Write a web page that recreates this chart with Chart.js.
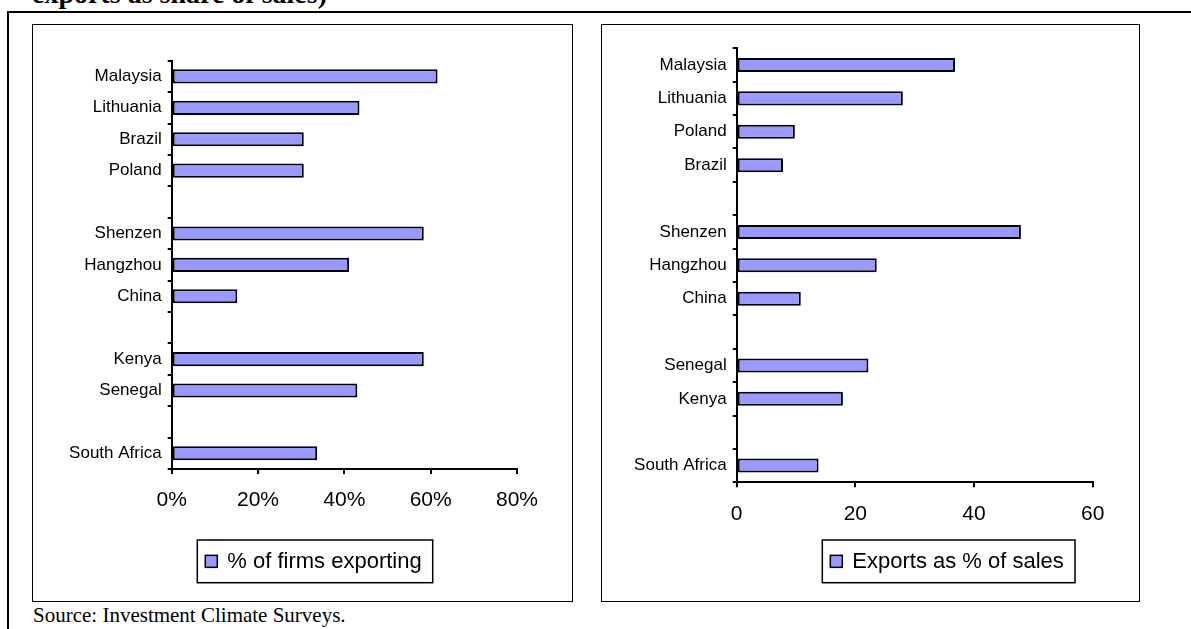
<!DOCTYPE html>
<html>
<head>
<meta charset="utf-8">
<script src="https://cdn.jsdelivr.net/npm/chart.js@4.4.0/dist/chart.umd.min.js"></script>
<style>
  body { margin: 0; background: #fff; width: 1191px; height: 629px; overflow: hidden; position: relative; }
  #title { position: absolute; left: 32px; top: -20px; font: bold 28px "Liberation Serif", "Times New Roman", serif; line-height: 28px; white-space: nowrap; }
  #frameTop { position: absolute; left: 7px; top: 11px; width: 1184px; height: 2px; background: #000; }
  #frameLeft { position: absolute; left: 7px; top: 11px; width: 2px; height: 618px; background: #000; }
  .box { position: absolute; border: 1px solid #000; box-sizing: border-box; }
  .box canvas { display: block; }
  #source { position: absolute; left: 33px; top: 605px; font: 21px "Liberation Serif", "Times New Roman", serif; line-height: 21px; white-space: nowrap; }
</style>
</head>
<body>
<div id="title">exports as share of sales)</div>
<div id="frameTop"></div>
<div id="frameLeft"></div>
<div class="box" style="left:32px; top:24px; width:541px; height:578px;">
  <canvas id="firmsChart" width="539" height="576"></canvas>
</div>
<div class="box" style="left:601px; top:24px; width:539px; height:578px;">
  <canvas id="salesChart" width="537" height="576"></canvas>
</div>
<div id="source">Source: Investment Climate Surveys.</div>

<script>
// Données (les chaînes vides sont les espaces entre groupes)
const firmsCountries = ["Malaysia", "Lithuania", "Brazil", "Poland", "", "Shenzen", "Hangzhou", "China", "", "Kenya", "Senegal", "", "South Africa"];
const firmsExporting = [61.6, 43.5, 30.6, 30.6, null, 58.4, 41.1, 15.2, null, 58.4, 43.0, null, 33.7];
const firmsTickValues = [0, 20, 40, 60, 80];
const firmsTickLabels = ["0%", "20%", "40%", "60%", "80%"];

const salesCountries = ["Malaysia", "Lithuania", "Poland", "Brazil", "", "Shenzen", "Hangzhou", "China", "", "Senegal", "Kenya", "", "South Africa"];
const exportsShare = [36.8, 28.0, 9.8, 7.8, null, 47.9, 23.6, 10.8, null, 22.2, 17.9, null, 13.8];
const salesTickValues = [0, 20, 40, 60];
const salesTickLabels = ["0", "20", "40", "60"];

const BAR_COLOR = "#9999ff";

// Légende encadrée, placée à la main comme dans le rapport
const boxLegend = {
    id: "boxLegend",
    afterDraw(chart, args, opts) {
        const ds = chart.data.datasets[0];
        const ctx = chart.ctx;
        const cy = opts.y + opts.h / 2;
        ctx.save();
        ctx.strokeStyle = "#000";
        ctx.lineWidth = 1.5;
        ctx.strokeRect(opts.x, opts.y, opts.w, opts.h);
        ctx.fillStyle = ds.backgroundColor;
        ctx.fillRect(opts.x + 8, cy - 6, 12, 12);
        ctx.lineWidth = 1.5;
        ctx.strokeRect(opts.x + 8, cy - 6, 12, 12);
        ctx.fillStyle = "#000";
        ctx.font = '22px "Liberation Sans", Arial, sans-serif';
        ctx.textBaseline = "middle";
        ctx.fillText(ds.label, opts.x + 30, cy + 1);
        ctx.restore();
    }
};

function makeChart(id, labels, values, label, tickValues, tickLabels, cfg) {
    const ctx = document.getElementById(id).getContext("2d");
    return new Chart(ctx, {
        type: "bar",
        data: {
            labels: labels,
            datasets: [{
                label: label,
                data: values,
                backgroundColor: BAR_COLOR,
                borderColor: "#000",
                borderWidth: 2,
                borderSkipped: false,
                categoryPercentage: 1,
                barPercentage: cfg.barPct
            }]
        },
        options: {
            indexAxis: "y",
            responsive: false,
            animation: false,
            devicePixelRatio: 1,
            layout: { padding: { left: 0, top: cfg.top, right: cfg.right, bottom: 0 } },
            plugins: {
                legend: { display: false },
                tooltip: { enabled: false },
                boxLegend: cfg.legend
            },
            scales: {
                y: {
                    offset: true,
                    afterFit: s => { s.width = cfg.yWidth; },
                    grid: { display: true, offset: true, drawOnChartArea: false, tickLength: 4, color: "#000", lineWidth: 2 },
                    border: { display: true, color: "#000", width: 2 },
                    ticks: {
                        autoSkip: false,
                        padding: 6,
                        color: "#000",
                        font: { family: '"Liberation Sans", Arial, sans-serif', size: 17 }
                    }
                },
                x: {
                    min: tickValues[0],
                    max: tickValues[tickValues.length - 1],
                    afterFit: s => { s.height = cfg.xHeight; },
                    afterBuildTicks: s => { s.ticks = tickValues.map(v => ({ value: v })); },
                    grid: { display: true, drawOnChartArea: false, tickLength: 5, color: "#000", lineWidth: 2 },
                    border: { display: true, color: "#000", width: 2 },
                    ticks: {
                        padding: 14,
                        color: "#000",
                        maxRotation: 0,
                        font: { family: '"Liberation Sans", Arial, sans-serif', size: 21 },
                        callback: (v, i) => tickLabels[i]
                    }
                }
            }
        },
        plugins: [boxLegend]
    });
}

window.onload = function() {
    makeChart("firmsChart", firmsCountries, firmsExporting, "% of firms exporting", firmsTickValues, firmsTickLabels, {
        barPct: 0.45, top: 35.7, right: 55, yWidth: 138.7, xHeight: 132,
        legend: { x: 164.3, y: 515, w: 235.4, h: 42.7 }
    });
    makeChart("salesChart", salesCountries, exportsShare, "Exports as % of sales", salesTickValues, salesTickLabels, {
        barPct: 0.42, top: 23.3, right: 46.3, yWidth: 134.7, xHeight: 118.7,
        legend: { x: 220.3, y: 515, w: 252.7, h: 42.7 }
    });
};
</script>
</body>
</html>
